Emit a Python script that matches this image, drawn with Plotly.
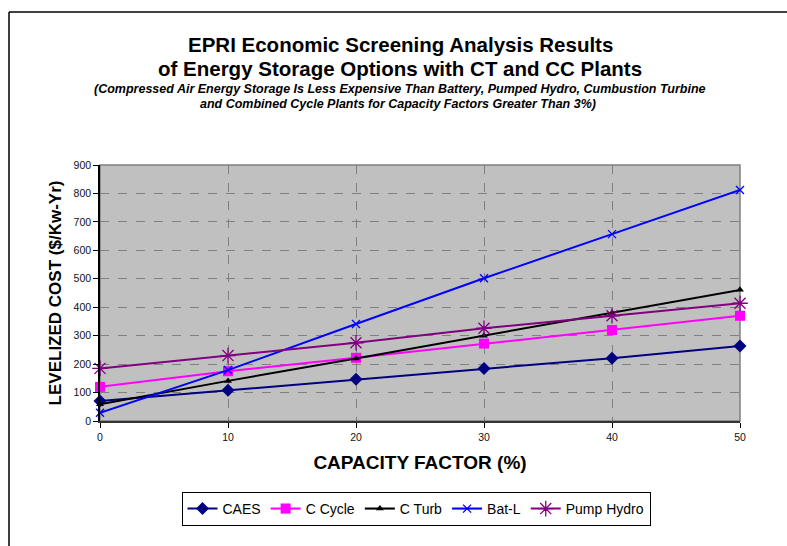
import plotly.graph_objects as go

capacity_factor = [0, 10, 20, 30, 40, 50]
caes = [70, 108, 147, 185, 221, 264]
c_cycle = [120, 175, 222, 272, 320, 370]
c_turb = [59, 141, 220, 300, 380, 461]
bat_l = [29, 179, 341, 502, 657, 812]
pump_hydro = [185, 230, 275, 326, 370, 414]

x_ticks = [0, 10, 20, 30, 40, 50]
y_ticks = [0, 100, 200, 300, 400, 500, 600, 700, 800, 900]

FONT = "Liberation Sans, Arial, sans-serif"

# plot area in pixels
L, R, T, B = 100, 740, 165, 421
W, H = 787, 546

def px(x):
    return (x - L) / (R - L)

def py(y):
    return (B - y) / (B - T)

fig = go.Figure()

series = [
    ("CAES", caes, "#000080", dict(symbol="diamond", size=10, color="#000080")),
    ("C Cycle", c_cycle, "#FF00FF", dict(symbol="square", size=10, color="#FF00FF")),
    ("C Turb", c_turb, "#000000", dict(symbol="triangle-up", size=7, color="#000000")),
    ("Bat-L", bat_l, "#0000FF", dict(symbol="x-thin-open", size=8, color="#0000FF",
                                     line=dict(color="#0000FF", width=1.3))),
    ("Pump Hydro", pump_hydro, "#800080", dict(symbol="asterisk-open", size=13, color="#800080",
                                               line=dict(color="#800080", width=1.3))),
]

for name, vals, col, mk in series:
    fig.add_trace(go.Scatter(
        x=capacity_factor, y=vals, name=name, mode="lines+markers",
        line=dict(color=col, width=2), marker=mk, cliponaxis=False,
    ))

annotations = [
    dict(text="<b>EPRI Economic Screening Analysis Results</b>", x=px(400), y=py(44),
         font=dict(size=20.5, color="black", family=FONT)),
    dict(text="<b>of Energy Storage Options with CT and CC Plants</b>", x=px(400), y=py(68),
         font=dict(size=20.5, color="black", family=FONT)),
    dict(text="<b><i>(Compressed Air Energy Storage Is Less Expensive Than Battery, Pumped Hydro, Cumbustion Turbine</i></b>",
         x=px(400), y=py(89), font=dict(size=12.5, color="black", family=FONT)),
    dict(text="<b><i>and Combined Cycle Plants for Capacity Factors Greater Than 3%)</i></b>",
         x=px(398), y=py(104), font=dict(size=12.5, color="black", family=FONT)),
]
for a in annotations:
    a.update(xref="paper", yref="paper", showarrow=False, xanchor="center", yanchor="middle")

shapes = [
    dict(type="line", xref="paper", yref="paper", x0=px(9), x1=px(800), y0=py(12), y1=py(12),
         line=dict(color="black", width=1.5)),
    dict(type="line", xref="paper", yref="paper", x0=px(9), x1=px(9), y0=py(12), y1=py(560),
         line=dict(color="black", width=1.5)),
    dict(type="rect", xref="paper", yref="paper", x0=0, x1=1, y0=0, y1=1,
         line=dict(color="#808080", width=1.5), layer="below"),
]

fig.update_layout(
    width=W, height=H,
    margin=dict(l=L, r=W - R, t=T, b=H - B, pad=0),
    paper_bgcolor="white", plot_bgcolor="#C0C0C0",
    font=dict(family=FONT, color="black"),
    annotations=annotations, shapes=shapes,
    showlegend=True,
    legend=dict(orientation="h", x=px(416), xanchor="center", y=py(492), yanchor="top",
                bordercolor="black", borderwidth=1, bgcolor="white",
                font=dict(size=14, family=FONT, color="black"),
                itemwidth=30, tracegroupgap=0),
    xaxis=dict(range=[0, 50], tickvals=x_ticks, ticktext=[str(v) for v in x_ticks],
               showgrid=True, gridcolor="#808080", griddash="dash", gridwidth=1,
               showline=True, linecolor="#333333", linewidth=2, zeroline=False,
               ticks="outside", ticklen=5, tickcolor="black",
               tickfont=dict(size=10.5, family=FONT, color="#111111"),
               title=dict(text="<b>CAPACITY FACTOR (%)</b>", standoff=14,
                          font=dict(size=19, family=FONT, color="black"))),
    yaxis=dict(range=[0, 900], tickvals=y_ticks, ticktext=[str(v) for v in y_ticks],
               showgrid=True, gridcolor="#808080", griddash="dash", gridwidth=1,
               showline=True, linecolor="black", linewidth=1.5, zeroline=False,
               ticks="outside", ticklen=5, tickcolor="black",
               tickfont=dict(size=10.5, family=FONT, color="#111111"),
               title=dict(text="<b>LEVELIZED COST ($/Kw-Yr)</b>", standoff=8,
                          font=dict(size=17, family=FONT, color="black"))),
)

fig.write_html("out.html", config={"displayModeBar": False},
               post_script="document.body.style.margin='0';")
